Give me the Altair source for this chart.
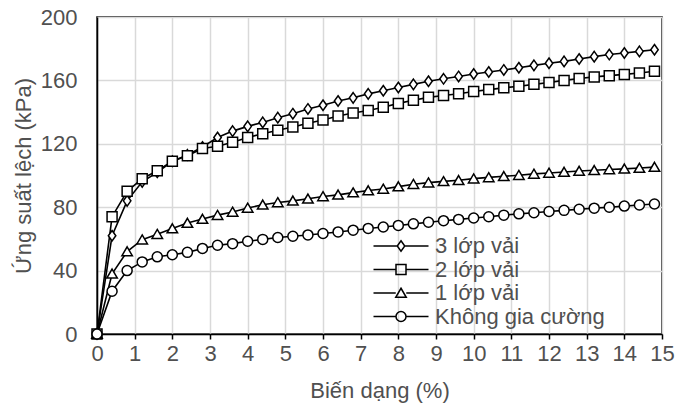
import altair as alt
import pandas as pd

strain = [0.0, 0.4, 0.8, 1.2, 1.6, 2.0, 2.4, 2.8, 3.2, 3.6, 4.0, 4.4, 4.8, 5.2, 5.6,
          6.0, 6.4, 6.8, 7.2, 7.6, 8.0, 8.4, 8.8, 9.2, 9.6, 10.0, 10.4, 10.8, 11.2,
          11.6, 12.0, 12.4, 12.8, 13.2, 13.6, 14.0, 14.4, 14.8]

s3 = [0, 62, 84, 96, 102, 109, 113, 118, 124, 128, 131, 133.5, 136.5, 139, 142,
      144.3, 147, 149, 151.5, 153.5, 155.5, 157.5, 159.5, 161, 162.5, 164, 165.3,
      166.6, 168, 169.5, 170.8, 172, 173.5, 175, 176.3, 177.3, 178.3, 179.3]
s2 = [0, 74, 90, 98, 103, 109, 112.5, 117, 118.5, 121, 124, 126.4, 128.5, 130.6, 133,
      135, 137.5, 139.4, 141, 143, 145.5, 147.5, 149.3, 150.5, 151.6, 153, 154.2,
      155.3, 156.3, 157.5, 158.7, 160, 161.2, 162.2, 163, 163.8, 164.7, 165.8]
s1 = [0, 38, 52, 59.5, 63, 66.5, 70, 72.5, 75, 77, 79.5, 81.5, 83, 84, 85.3,
      86.8, 87.8, 89.2, 90.5, 91.5, 93, 94.5, 95.5, 96.3, 97, 98, 98.8,
      99.5, 100.2, 101, 101.6, 102.2, 102.8, 103.3, 103.8, 104.2, 104.7, 105.3]
s0 = [0, 27, 40, 45.5, 48.7, 50, 51.5, 54, 56, 57, 58.5, 59.7, 60.9, 61.7, 62.5,
      63.4, 64.4, 65.5, 66.6, 67.5, 68.5, 69.5, 70.5, 71.5, 72.3, 73.2, 74,
      75, 75.8, 76.5, 77.3, 78, 78.7, 79.4, 80, 80.7, 81.4, 82]

series_names = ["3 lớp vải", "2 lớp vải", "1 lớp vải", "Không gia cường"]
series_values = [s3, s2, s1, s0]

x_ticks = list(range(0, 16))
y_ticks = [0, 40, 80, 120, 160, 200]

rows = []
for name, vals in zip(series_names, series_values):
    for x, y in zip(strain, vals):
        rows.append({"strain": x, "stress": y, "series": name})
df = pd.DataFrame(rows)

# marker shapes (unit = 5px at size 100)
diamond = "M0,-1.05L0.75,0L0,1.05L-0.75,0Z"
square = "M-1,-1H1V1H-1Z"
triangle = "M0,-0.95L1.05,0.85L-1.05,0.85Z"
circle = "M1,0A1,1,0,1,1,-1,0A1,1,0,1,1,1,0Z"
marker_paths = [diamond, square, triangle, circle]
legend_paths = [
    "M-5.5,0H-0.75M0.75,0H5.5" + diamond,
    "M-5.5,0H-1M1,0H5.5" + square,
    "M-5.5,0H-1.05M1.05,0H5.5" + triangle,
    "M-5.5,0H-1M1,0H5.5" + circle,
]

FONT = "Liberation Sans"
TXT = "#505050"

x_enc = alt.X("strain:Q", scale=alt.Scale(domain=[0, 15], nice=False),
              axis=alt.Axis(values=x_ticks, title="Biến dạng (%)", tickSize=5,
                            tickColor="black", tickWidth=1.5, labelPadding=4,
                            titlePadding=16, labelFlush=False))
y_enc = alt.Y("stress:Q", scale=alt.Scale(domain=[0, 200], nice=False),
              axis=alt.Axis(values=y_ticks, title="Ứng suất lệch (kPa)", ticks=False,
                            labelPadding=20, titlePadding=5))

base = alt.Chart(df)

lines = base.mark_line(color="black", strokeWidth=1.6).encode(
    x=x_enc, y=y_enc, detail="series:N")

points = base.mark_point(filled=True, fill="white", stroke="black", strokeWidth=1.5,
                         size=100, opacity=1).encode(
    x=x_enc, y=y_enc,
    shape=alt.Shape("series:N", scale=alt.Scale(domain=series_names, range=marker_paths),
                    legend=None))

legend_layer = base.transform_filter("datum.stress < 0").mark_point(
    filled=False, stroke="black", strokeWidth=1.5, size=100, opacity=1
).encode(
    x=x_enc, y=y_enc,
    shape=alt.Shape("series:N",
                    scale=alt.Scale(domain=series_names, range=legend_paths),
                    legend=alt.Legend(title=None, orient="none", legendX=293, legendY=218,
                                      labelFont=FONT, labelFontSize=22, labelColor=TXT,
                                      labelLimit=400,
                                      symbolSize=100, symbolStrokeColor="black",
                                      symbolFillColor="white", symbolStrokeWidth=1.5,
                                      symbolOpacity=1, labelOffset=23, rowPadding=1.5,
                                      padding=0)))

chart = alt.layer(lines, points, legend_layer).resolve_scale(shape="independent").properties(
    width=565, height=317,
    autosize=alt.AutoSizeParams(type="none"),
    padding={"left": 89, "top": 9, "right": 17, "bottom": 70},
).configure_axis(
    labelFont=FONT, titleFont=FONT, labelFontSize=22, titleFontSize=22,
    labelColor=TXT, titleColor=TXT, titleFontWeight="normal",
    gridColor="#d9d9d9", gridWidth=1.5, domainColor="black", domainWidth=1.5,
).configure_view(stroke="black", strokeWidth=1.5)

chart.save("out.html", embed_options={"renderer": "svg", "actions": False})
